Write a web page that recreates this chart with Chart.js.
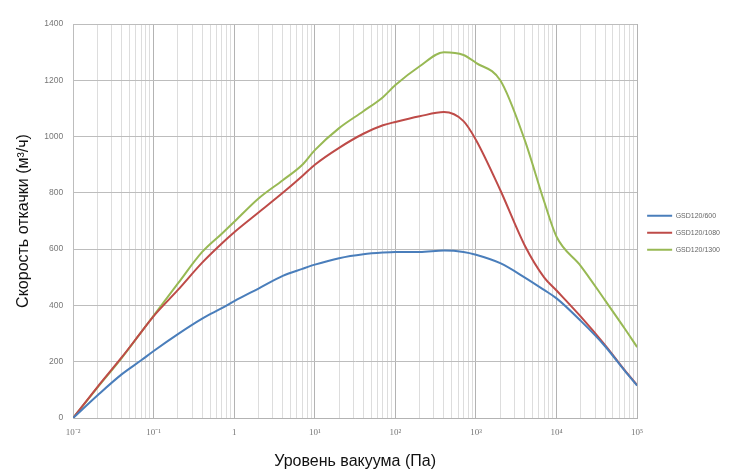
<!DOCTYPE html>
<html>
<head>
<meta charset="utf-8">
<script src="https://cdn.jsdelivr.net/npm/chart.js@4/dist/chart.umd.min.js"></script>
<style>
  html, body { margin: 0; padding: 0; background: #ffffff; }
  #wrap { width: 730px; height: 472px; position: relative; }
</style>
</head>
<body>
<div id="wrap"><canvas id="c" width="730" height="472"></canvas></div>
<script>
// Pressure (Pa)
const pressure = [0.01, 0.02, 0.04, 0.07, 0.1, 0.2, 0.4, 0.7, 1, 2, 4, 7, 10, 20, 40, 70, 100, 200, 400, 700, 1000, 2000, 4000, 7000, 10000, 20000, 40000, 70000, 100000];
// Pumping speed (m3/h)
const gsd600  = [0, 80, 155, 205, 238, 298, 353, 390, 415, 460, 505, 530, 545, 568, 582, 588, 590, 590, 595, 590, 580, 550, 500, 455, 425, 345, 255, 168, 115];
const gsd1080 = [0, 110, 215, 305, 362, 455, 552, 620, 660, 730, 800, 860, 900, 960, 1010, 1040, 1052, 1072, 1087, 1055, 988, 810, 615, 500, 453, 360, 259, 170, 117];
const gsd1300 = [0, 108, 213, 305, 364, 478, 590, 655, 697, 780, 845, 900, 952, 1030, 1090, 1140, 1183, 1250, 1300, 1290, 1262, 1200, 990, 770, 644, 540, 418, 318, 252];
const seriesNames = ['GSD120/600', 'GSD120/1080', 'GSD120/1300'];
const yTicks = [0, 200, 400, 600, 800, 1000, 1200, 1400];
const xTickValues = [];
for (let e = -2; e <= 5; e++) {
  for (let m = 1; m <= 9; m++) {
    const v = +(m * Math.pow(10, e)).toPrecision(3);
    if (v <= 100000) xTickValues.push(v);
  }
}
const xTickLabels = {'-2': '10\u207B\u00B2', '-1': '10\u207B\u00B9', '0': '1', '1': '10\u00B9', '2': '10\u00B2', '3': '10\u00B3', '4': '10\u2074', '5': '10\u2075'};

const colors = ['#4a7ebb', '#be4b48', '#98b954'];
function pts(arr) { return pressure.map((p, i) => ({x: p, y: arr[i]})); }
function isPow10(v) { const l = Math.log10(v); return Math.abs(l - Math.round(l)) < 1e-9; }

new Chart(document.getElementById('c'), {
  type: 'line',
  data: {
    datasets: [gsd600, gsd1080, gsd1300].map((arr, i) => ({
      label: seriesNames[i],
      data: pts(arr),
      borderColor: colors[i],
      backgroundColor: colors[i],
      borderWidth: 2,
      pointRadius: 0,
      cubicInterpolationMode: 'monotone',
      fill: false
    }))
  },
  options: {
    responsive: false,
    animation: false,
    layout: { padding: { top: 24, left: 14, right: 0, bottom: 1 } },
    plugins: {
      legend: {
        position: 'right',
        align: 'start',
        title: { display: true, text: ' ', font: { size: 1 }, padding: { top: 177, bottom: 0 } },
        labels: {
          boxWidth: 25,
          boxHeight: 2,
          padding: 10,
          color: '#666666',
          font: { family: 'Liberation Sans', size: 7 },
          generateLabels: (chart) => Chart.defaults.plugins.legend.labels.generateLabels(chart).map(l => Object.assign(l, {lineWidth: 0}))
        }
      },
      tooltip: { enabled: false }
    },
    scales: {
      x: {
        type: 'logarithmic',
        min: 0.01,
        max: 100000,
        afterBuildTicks: (scale) => { scale.ticks = xTickValues.map(v => ({value: v, major: isPow10(v)})); },
        ticks: {
          autoSkip: false,
          maxRotation: 0,
          padding: 9,
          color: '#777777',
          font: { family: 'Liberation Serif', size: 9 },
          callback: (value) => isPow10(value) ? xTickLabels[String(Math.round(Math.log10(value)))] : ''
        },
        grid: {
          color: (ctx) => (ctx.tick && isPow10(ctx.tick.value)) ? '#b3b3b3' : '#dddddd',
          lineWidth: 1,
          drawTicks: false
        },
        border: { color: '#b3b3b3' },
        title: {
          display: true,
          text: 'Уровень вакуума (Па)',
          color: '#111111',
          font: { family: 'Liberation Sans', size: 16 },
          padding: { top: 5, bottom: 0 }
        }
      },
      y: {
        min: 0,
        max: 1400,
        afterBuildTicks: (scale) => { scale.ticks = yTicks.map(v => ({value: v})); },
        ticks: {
          padding: 10,
          color: '#777777',
          font: { family: 'Liberation Sans', size: 8.5 },
          callback: (value) => String(value)
        },
        grid: { color: '#bdbdbd', lineWidth: 1, drawTicks: false },
        border: { color: '#bdbdbd' },
        title: {
          display: true,
          text: 'Скорость откачки (м³/ч)',
          color: '#111111',
          font: { family: 'Liberation Sans', size: 16 },
          padding: { top: 0, bottom: 1 }
        }
      }
    }
  }
});
</script>
</body>
</html>
